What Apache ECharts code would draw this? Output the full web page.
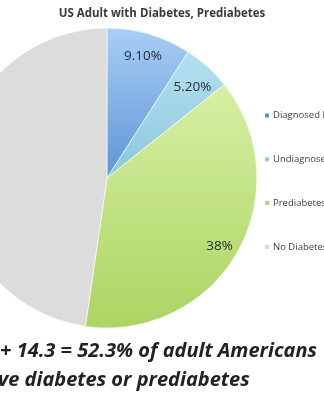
<!DOCTYPE html>
<html>
<head>
<meta charset="utf-8">
<script src="https://cdn.jsdelivr.net/npm/echarts@6/dist/echarts.min.js"></script>
<style>
html,body{margin:0;padding:0;background:#fff;}
#chart{width:324px;height:400px;}
</style>
</head>
<body>
<div id="chart"></div>
<script>
const titleText = 'US Adult with Diabetes, Prediabetes';
const categories = ['Diagnosed Diabetes', 'Undiagnosed Diabetes', 'Prediabetes', 'No Diabetes'];
const values = [9.1, 5.2, 38, 47.7];
const valueLabels = ['9.10%', '5.20%', '38%', ''];
const noteLines = ['+ 14.3 = 52.3% of adult Americans', 've diabetes or prediabetes'];

const sliceColors = [
  {type:'linear', x:0, y:0, x2:0, y2:1, colorStops:[{offset:0,color:'#a8cef5'},{offset:1,color:'#5e95d6'}]},
  {type:'linear', x:0, y:0, x2:0, y2:1, colorStops:[{offset:0,color:'#b4e0f0'},{offset:1,color:'#8cc7dd'}]},
  {type:'linear', x:0, y:0, x2:0, y2:1, colorStops:[{offset:0,color:'#d6f0a4'},{offset:1,color:'#acd462'}]},
  '#dcdcdc'
];
const legendColors = ['#5b8fd2', '#8fcde0', '#b0d76a', '#dadada'];
const labelOffsets = [[0, 0], [0, 4], [2, 5], [0, 0]];

const chart = echarts.init(document.getElementById('chart'), null, {renderer:'canvas'});
const center = [107, 178];
const R = 150;

chart.setOption({
  backgroundColor: '#ffffff',
  animation: false,
  title: {
    text: titleText,
    left: 'center',
    top: 3,
    textStyle: {fontFamily: 'Open Sans', fontWeight: 'bold', fontSize: 11.5, color: '#3a3a3a'}
  },
  legend: {
    orient: 'vertical',
    left: 258,
    top: 104.5,
    itemWidth: 6,
    itemHeight: 6,
    itemGap: 31.8,
    icon: 'rect',
    data: categories.map((c, i) => ({name: c, itemStyle: {color: legendColors[i]}})),
    textStyle: {fontFamily: 'Open Sans', fontSize: 9.5, color: '#404040', lineHeight: 12, padding: [0, 0, 0, -2]},
    selectedMode: false
  },
  series: [
    {
      type: 'pie',
      center: center,
      radius: [0, R],
      startAngle: 90,
      clockwise: true,
      silent: true,
      itemStyle: {borderColor: '#ffffff', borderWidth: 0.6},
      label: {show: false},
      labelLine: {show: false},
      data: categories.map((c, i) => ({name: c, value: values[i], itemStyle: {color: sliceColors[i]}}))
    },
    {
      type: 'pie',
      center: center,
      radius: [R * 0.66, R],
      startAngle: 90,
      clockwise: true,
      silent: true,
      itemStyle: {color: 'rgba(0,0,0,0)', borderWidth: 0},
      label: {
        show: true,
        position: 'inside',
        fontFamily: 'Open Sans',
        fontSize: 13.5,
        color: '#1e2a36',
        formatter: p => valueLabels[p.dataIndex]
      },
      labelLine: {show: false},
      data: categories.map((c, i) => ({name: c + ' ', value: values[i], label: {offset: labelOffsets[i]}}))
    }
  ],
  graphic: [
    {
      type: 'text', left: 0, top: 341,
      style: {text: noteLines[0], fontFamily: 'Open Sans', fontWeight: 'bold', fontStyle: 'italic', fontSize: 20, fill: '#222222'}
    },
    {
      type: 'text', left: -2, top: 370,
      style: {text: noteLines[1], fontFamily: 'Open Sans', fontWeight: 'bold', fontStyle: 'italic', fontSize: 20, fill: '#222222'}
    }
  ]
});
</script>
</body>
</html>
